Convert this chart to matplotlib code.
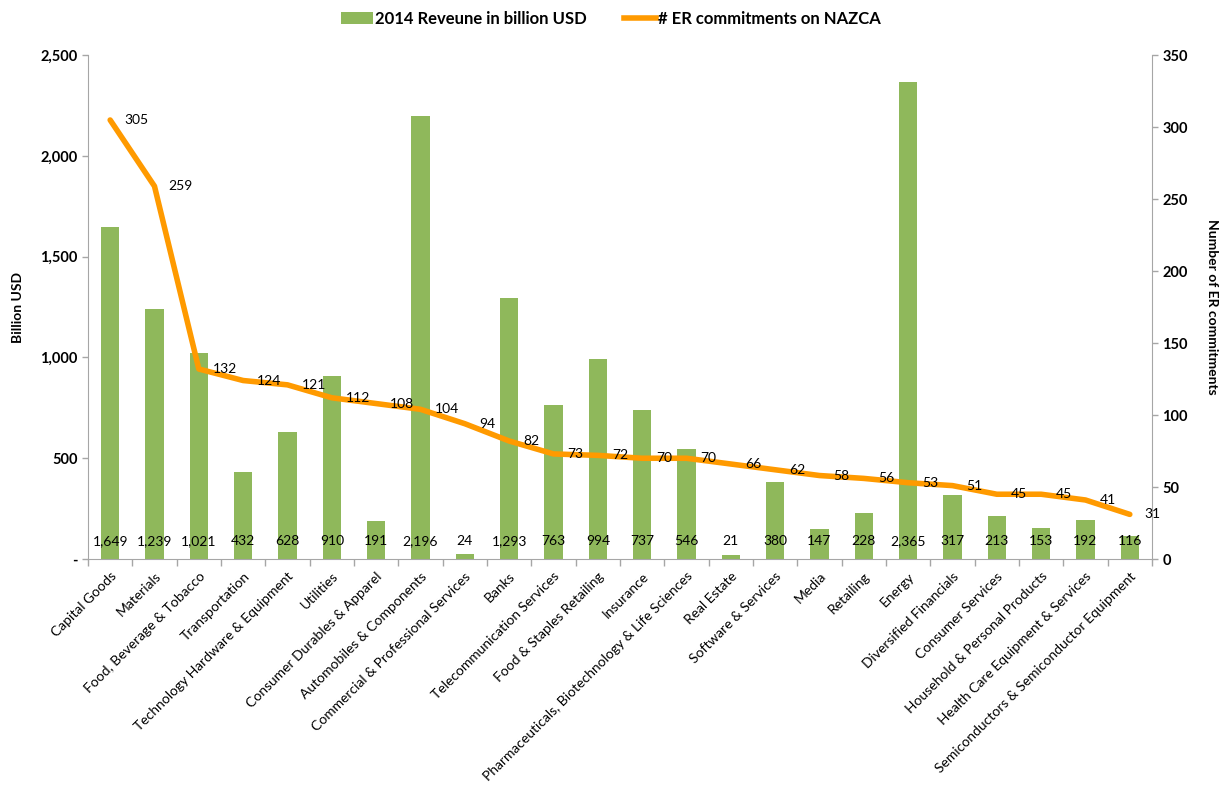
import matplotlib
matplotlib.use("Agg")
import matplotlib.pyplot as plt
from matplotlib.ticker import FuncFormatter, MultipleLocator, FixedLocator
from matplotlib.patches import Patch
from matplotlib.lines import Line2D

plt.rcParams['font.family'] = ['Lato', 'DejaVu Sans']

categories = [
    "Capital Goods", "Materials", "Food, Beverage & Tobacco", "Transportation",
    "Technology Hardware & Equipment", "Utilities", "Consumer Durables & Apparel",
    "Automobiles & Components", "Commercial & Professional Services", "Banks",
    "Telecommunication Services", "Food & Staples Retailing", "Insurance",
    "Pharmaceuticals, Biotechnology & Life Sciences", "Real Estate",
    "Software & Services", "Media", "Retailing", "Energy", "Diversified Financials",
    "Consumer Services", "Household & Personal Products",
    "Health Care Equipment & Services", "Semiconductors & Semiconductor Equipment",
]
revenue = [1649, 1239, 1021, 432, 628, 910, 191, 2196, 24, 1293, 763, 994, 737,
           546, 21, 380, 147, 228, 2365, 317, 213, 153, 192, 116]
commitments = [305, 259, 132, 124, 121, 112, 108, 104, 94, 82, 73, 72, 70, 70,
               66, 62, 58, 56, 53, 51, 45, 45, 41, 31]

bar_color = "#8FB85B"
line_color = "#FF9A00"
axis_color = "#A6A6A6"

fig = plt.figure(figsize=(12.22, 7.89), dpi=100)
ax = fig.add_axes([0.072, 0.2915, 0.8707, 0.6385])
ax2 = ax.twinx()

x = list(range(len(categories)))
ax.bar(x, revenue, width=0.42, color=bar_color, zorder=2)
ax.set_xlim(-0.5, len(categories) - 0.5)
ax.set_ylim(0, 2500)

for xi, v in zip(x, revenue):
    ax.text(xi, 90, f"{v:,}", ha="center", va="center", fontsize=10, color="black", zorder=5)

ax2.plot(x, commitments, color=line_color, linewidth=4, solid_capstyle="round", zorder=3)
ax2.set_ylim(0, 350)
for xi, v in zip(x, commitments):
    ax2.text(xi + 0.32, v, f"{v}", ha="left", va="center", fontsize=10, color="black")

# value axes
ax.yaxis.set_major_locator(MultipleLocator(500))
ax.yaxis.set_major_formatter(FuncFormatter(lambda v, p: "-" if v == 0 else f"{int(v):,}"))
ax2.yaxis.set_major_locator(MultipleLocator(50))
for a in (ax, ax2):
    a.tick_params(axis="y", labelsize=10.5, colors=axis_color, labelcolor="black", length=4, width=1)
for lbl in ax.get_yticklabels() + ax2.get_yticklabels():
    lbl.set_fontweight("bold")

# category axis
ax.xaxis.set_major_locator(FixedLocator(x))
ax.set_xticklabels(categories, rotation=45, ha="right", rotation_mode="anchor", fontsize=10)
ax.xaxis.set_minor_locator(FixedLocator([i - 0.5 for i in range(len(categories) + 1)]))
ax.tick_params(axis="x", which="major", length=0, pad=8)
ax.tick_params(axis="x", which="minor", length=5, color=axis_color, width=1)

for a in (ax, ax2):
    a.spines["top"].set_visible(False)
    for s in ("left", "right", "bottom"):
        a.spines[s].set_color(axis_color)
ax.spines["right"].set_visible(False)
ax2.spines["left"].set_visible(False)
ax2.spines["bottom"].set_visible(False)

ax.set_ylabel("Billion USD", fontsize=10, fontweight="bold", labelpad=12)
ax2.set_ylabel("Number of ER commitments", fontsize=10, fontweight="bold",
               rotation=270, labelpad=22)

handles = [Patch(facecolor=bar_color, label="2014 Reveune in billion USD"),
           Line2D([0], [0], color=line_color, lw=4, label="# ER commitments on NAZCA")]
leg = fig.legend(handles=handles, loc="upper center", bbox_to_anchor=(0.5, 1.005),
                 ncol=2, frameon=False, fontsize=12, handlelength=1.9,
                 handletextpad=0.15, columnspacing=2.2)
for t in leg.get_texts():
    t.set_fontweight("bold")

fig.savefig("out.png", dpi=100)
